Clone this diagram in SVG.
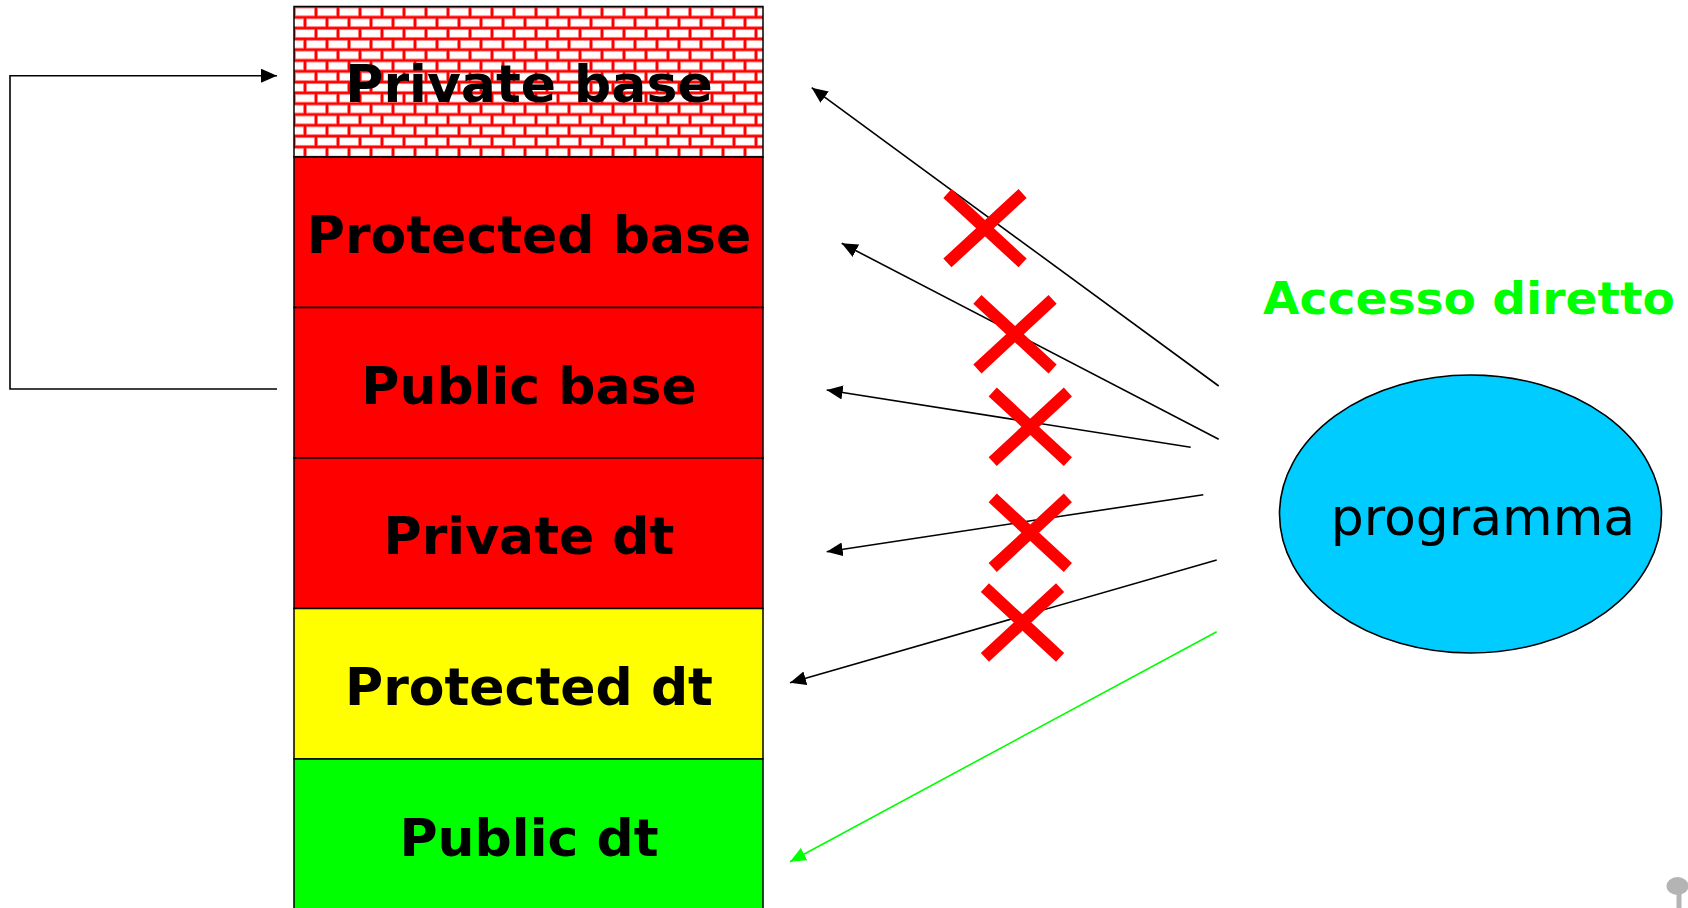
<svg xmlns="http://www.w3.org/2000/svg" width="1688" height="908" viewBox="0 0 1688 908">
<style>
.lbl{font-family:"DejaVu Sans","Verdana",sans-serif;font-weight:bold;font-size:52px;fill:#000;text-anchor:middle}
.band{stroke:#000;stroke-width:1.5}
.conn{fill:none;stroke:#000;stroke-width:1.6}
.cross{stroke:#FF0000;stroke-width:12;stroke-linecap:butt}
</style>
<defs>
<pattern id="brick" x="294" y="6.5" width="22" height="21.6" patternUnits="userSpaceOnUse">
<rect width="22" height="21.6" fill="#FF0000"/>
<rect x="1.2" y="1.2" width="19.6" height="8.4" fill="#FF9A9A"/>
<rect x="2" y="2" width="18" height="6.8" fill="#FFFFFF"/>
<rect x="-9.8" y="12" width="19.6" height="8.4" fill="#FF9A9A"/>
<rect x="-9" y="12.8" width="18" height="6.8" fill="#FFFFFF"/>
<rect x="12.2" y="12" width="19.6" height="8.4" fill="#FF9A9A"/>
<rect x="13" y="12.8" width="18" height="6.8" fill="#FFFFFF"/>
</pattern>
<marker id="ah" markerUnits="userSpaceOnUse" markerWidth="18" markerHeight="16" refX="16" refY="7" orient="auto">
<path d="M0,0 L16,7 L0,14 Z" fill="#000"/>
</marker>
<marker id="ahg" markerUnits="userSpaceOnUse" markerWidth="18" markerHeight="16" refX="16" refY="7" orient="auto">
<path d="M0,0 L16,7 L0,14 Z" fill="#00FF00"/>
</marker>
</defs>
<rect width="1688" height="908" fill="#FFFFFF"/>

<g id="private-base">
<rect class="band" x="294" y="6.5" width="469" height="150.5" fill="url(#brick)"/>
<text class="lbl" x="529" y="102">Private base</text>
</g>
<g id="protected-base">
<rect class="band" x="294" y="157" width="469" height="150.5" fill="#FF0000"/>
<text class="lbl" x="529" y="253">Protected base</text>
</g>
<g id="public-base">
<rect class="band" x="294" y="307.5" width="469" height="150.5" fill="#FF0000"/>
<text class="lbl" x="529" y="404">Public base</text>
</g>
<g id="private-dt">
<rect class="band" x="294" y="458" width="469" height="150.5" fill="#FF0000"/>
<text class="lbl" x="529" y="554">Private dt</text>
</g>
<g id="protected-dt">
<rect class="band" x="294" y="608.5" width="469" height="150.5" fill="#FFFF00"/>
<text class="lbl" x="529" y="705">Protected dt</text>
</g>
<g id="public-dt">
<rect class="band" x="294" y="759" width="469" height="152" fill="#00FF00"/>
<text class="lbl" x="529" y="856">Public dt</text>
</g>

<g id="programma">
<ellipse cx="1470.5" cy="514" rx="191" ry="139" fill="#00CCFF" stroke="#000" stroke-width="1.6"/>
<text x="1483" y="535" font-family="DejaVu Sans, Verdana, sans-serif" font-size="52" text-anchor="middle" fill="#000">programma</text>
</g>

<g id="accesso-label">
<text x="1263" y="314" font-family="DejaVu Sans, Verdana, sans-serif" font-weight="bold" font-size="45" fill="#00FF00" textLength="412" lengthAdjust="spacingAndGlyphs">Accesso diretto</text>
</g>

<g id="connectors">
<polyline class="conn" points="277,389 10,389 10,75.7 277,75.7" marker-end="url(#ah)"/>
<line class="conn" x1="1218.7" y1="386" x2="811.7" y2="87.7" marker-end="url(#ah)"/>
<line class="conn" x1="1218.7" y1="439.3" x2="841.7" y2="243.3" marker-end="url(#ah)"/>
<line class="conn" x1="1190.7" y1="447.3" x2="826.7" y2="390" marker-end="url(#ah)"/>
<line class="conn" x1="1203.3" y1="494.7" x2="826.7" y2="551.7" marker-end="url(#ah)"/>
<line class="conn" x1="1216.7" y1="560" x2="790" y2="682.7" marker-end="url(#ah)"/>
<line x1="1216.7" y1="631.7" x2="790" y2="861.7" stroke="#00FF00" stroke-width="1.6" marker-end="url(#ahg)"/>
</g>

<g id="crosses">
<path class="cross" d="M947.4,193.5 L1022.6,262.9 M1022.6,193.5 L947.4,262.9"/>
<path class="cross" d="M977.4,299.4 L1052.6,369 M1052.6,299.4 L977.4,369"/>
<path class="cross" d="M992.7,392 L1067.9,461.6 M1067.9,392 L992.7,461.6"/>
<path class="cross" d="M992.7,497.9 L1067.9,567.5 M1067.9,497.9 L992.7,567.5"/>
<path class="cross" d="M984.9,587.7 L1060.1,657.3 M1060.1,587.7 L984.9,657.3"/>
</g>

<g id="pin">
<ellipse cx="1677.5" cy="886" rx="11" ry="9" fill="#B4B4B4"/>
<rect x="1676.5" y="893" width="5" height="15" fill="#B4B4B4"/>
</g>
</svg>
